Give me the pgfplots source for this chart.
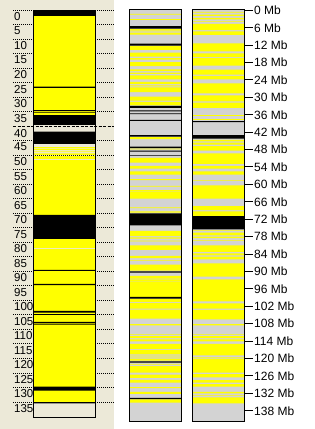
\documentclass[border=0pt]{standalone}
\usepackage{pgfplots}
\pgfplotsset{compat=1.18}
\usepackage{fontspec}
\setmainfont{Liberation Sans}
\definecolor{panelbg}{HTML}{ECE9D8}
\definecolor{lgrey}{HTML}{D3D3D3}
\definecolor{yel}{HTML}{FFFF00}

% band tables: v=1 starts a band, v=0 ends it (y in Mb)
\pgfplotstableread{
v y
1 1.9
0 36.1
1 47.2
0 47.5
1 47.8
0 48.15
1 48.6
0 48.9
1 49.28
0 49.87
1 50.2
0 51.25
1 51.55
0 82.0
1 82.3
0 135.2
}\leftyellow
\pgfplotstableread{
v y
1 -0.1
0 1.9
1 26.3
0 26.7
1 34.4
0 34.7
1 35.0
0 35.3
1 36.1
0 39.5
1 41.8
0 46.05
1 70.55
0 78.8
1 89.5
0 89.85
1 94.3
0 94.7
1 103.6
0 104.2
1 104.7
0 105.0
1 107.4
0 107.7
1 108.0
0 108.3
1 129.7
0 131.1
1 135.0
0 135.5
}\leftblack
\pgfplotstableread{
v y
1 1.2
0 1.5
1 3.0
0 3.3
1 6.5
0 6.8
1 7.0
0 7.3
1 7.72
0 8.41
1 12.3
0 13.68
1 14.61
0 15.99
1 16.44
0 17.0
1 17.82
0 19.2
1 20.33
0 21.0
1 21.5
0 21.95
1 22.4
0 23.78
1 24.71
0 25.4
1 25.85
0 26.19
1 26.54
0 28.16
1 29.78
0 31.16
1 31.6
0 32.74
1 43.67
0 44.36
1 47.7
0 47.9
1 50.9
0 52.52
1 53.66
0 54.59
1 55.49
0 56.66
1 58.2
0 58.5
1 60.5
0 60.8
1 62.0
0 62.2
1 62.4
0 64.93
1 67.9
0 68.14
1 69.27
0 69.76
1 76.0
0 77.8
1 78.24
0 78.72
1 79.41
0 79.62
1 80.99
0 82.61
1 84.68
0 85.37
1 86.06
0 86.3
1 87.68
0 89.75
1 91.57
0 92.5
1 92.7
0 93.4
1 93.64
0 98.8
1 99.4
0 100.6
1 100.9
0 102.85
1 103.2
0 106.29
1 108.12
0 108.57
1 111.57
0 111.8
1 112.26
0 112.95
1 113.39
0 114.08
1 115.0
0 116.8
1 117.1
0 118.4
1 118.7
0 118.9
1 119.4
0 119.6
1 120.07
0 120.76
1 121.9
0 122.1
1 122.6
0 124.9
1 125.6
0 126.7
1 127.4
0 128.3
1 129.9
0 130.2
1 131.55
0 132.24
1 134.07
0 135.24
}\midyellow
\pgfplotstableread{
v y
1 5.41
0 6.34
1 11.51
0 12.2
1 32.98
0 33.67
1 34.47
0 34.8
1 35.5
0 35.8
1 37.8
0 38.1
1 42.98
0 43.56
1 47.01
0 47.46
1 48.4
0 48.7
1 49.97
0 50.2
1 69.96
0 74.1
1 89.95
0 90.44
1 98.8
0 99.4
1 120.97
0 121.45
1 133.6
0 134.0
}\midblack
\pgfplotstableread{
v y
1 0.5
0 0.8
1 1.5
0 1.96
1 2.65
0 3.1
1 3.79
0 4.03
1 4.72
0 6.79
1 7.24
0 8.51
1 11.37
0 14.13
1 14.82
0 16.1
1 16.44
0 19.09
1 20.47
0 22.2
1 22.64
0 23.78
1 25.16
0 28.61
1 29.3
0 31.36
1 31.85
0 33.67
1 36.1
0 36.4
1 37.5
0 37.8
1 44.7
0 45.15
1 45.63
0 46.32
1 46.77
0 48.39
1 49.28
0 52.97
1 53.66
0 54.59
1 55.49
0 56.66
1 58.6
0 58.8
1 60.31
0 64.93
1 67.45
0 68.83
1 69.27
0 70.9
1 75.72
0 75.96
1 76.65
0 77.55
1 78.03
0 78.48
1 79.17
0 79.41
1 80.99
0 83.3
1 83.75
0 84.44
1 84.92
0 85.82
1 87.2
0 91.8
1 92.71
0 100.29
1 100.98
0 102.85
1 103.29
0 106.5
1 108.12
0 108.57
1 111.57
0 111.8
1 112.26
0 112.95
1 113.39
0 114.08
1 115.0
0 118.9
1 119.6
0 119.8
1 120.07
0 124.9
1 125.35
0 126.5
1 127.43
0 128.36
1 128.8
0 129.7
1 131.55
0 132.0
1 132.7
0 132.9
1 133.38
0 135.44
}\rightyellow
\pgfplotstableread{
v y
1 38.2
0 38.5
1 42.98
0 44.25
1 70.9
0 75.48
}\rightblack

\begin{document}
\begin{tikzpicture}
% frame: x in pixels, y in Mb
\begin{axis}[
  name=main, at={(157.5pt,214.5pt)}, anchor=center,
  width=315pt, height=429pt, scale only axis,
  xmin=0, xmax=315, ymin=-3.55, ymax=144.3, y dir=reverse,
  hide axis, clip=false,
  /pgf/number format/assume math mode=true]
  \fill[white] (axis cs:0,-3.55) rectangle (axis cs:315,144.3);
  \fill[panelbg] (axis cs:0,-3.55) rectangle (axis cs:113.5,144.3);
  \pgfplotsinvokeforeach{0,5,...,35,45,50,...,135}{
    \addplot[black, line width=1pt, dash pattern=on 1pt off 1pt] coordinates {(13,#1) (113.5,#1)};
    \node[anchor=north west, inner sep=0pt, font=\fontsize{11.5}{12}\selectfont] at (axis cs:14,#1) [yshift=-2pt] {#1};
  }
  \addplot[black, line width=1.5pt, dash pattern=on 3pt off 1.5pt] coordinates {(13,40) (113.5,40)};
  \node[anchor=north west, inner sep=0pt, font=\fontsize{11.5}{12}\selectfont] at (axis cs:14,40) [yshift=-2.5pt] {40};
  \pgfplotsinvokeforeach{0,6,...,138}{
    \addplot[black, line width=1pt] coordinates {(244.3,#1) (252.5,#1)};
    \node[anchor=west, inner sep=0pt, font=\fontsize{12}{14}\selectfont] at (axis cs:254,#1) {#1 Mb};
  }
\end{axis}
% left column
\begin{axis}[
  at={(64.5pt,215.5pt)}, anchor=center,
  width=61pt, height=407pt, scale only axis,
  xmin=0, xmax=1, ymin=-0.1, ymax=140.17, y dir=reverse,
  xtick=\empty, ytick=\empty, axis on top,
  axis line style={line width=1pt}]
  \addplot[xbar interval, fill=yel, draw=none] table[x=v, y=y] {\leftyellow};
  \addplot[xbar interval, fill=black, draw=none] table[x=v, y=y] {\leftblack};
\end{axis}
% middle column
\begin{axis}[
  at={(155.3pt,213.85pt)}, anchor=center,
  width=52pt, height=411.7pt, scale only axis,
  xmin=0, xmax=1, ymin=-0.345, ymax=141.55, y dir=reverse,
  xtick=\empty, ytick=\empty, axis on top,
  axis background/.style={fill=lgrey},
  axis line style={line width=1pt}]
  \addplot[xbar interval, fill=yel, draw=none] table[x=v, y=y] {\midyellow};
  \addplot[xbar interval, fill=black, draw=none] table[x=v, y=y] {\midblack};
\end{axis}
% right column
\begin{axis}[
  at={(218.5pt,213.85pt)}, anchor=center,
  width=51.6pt, height=411.7pt, scale only axis,
  xmin=0, xmax=1, ymin=-0.345, ymax=141.55, y dir=reverse,
  xtick=\empty, ytick=\empty, axis on top,
  axis background/.style={fill=lgrey},
  axis line style={line width=1pt}]
  \addplot[xbar interval, fill=yel, draw=none] table[x=v, y=y] {\rightyellow};
  \addplot[xbar interval, fill=black, draw=none] table[x=v, y=y] {\rightblack};
\end{axis}
\end{tikzpicture}
\end{document}
